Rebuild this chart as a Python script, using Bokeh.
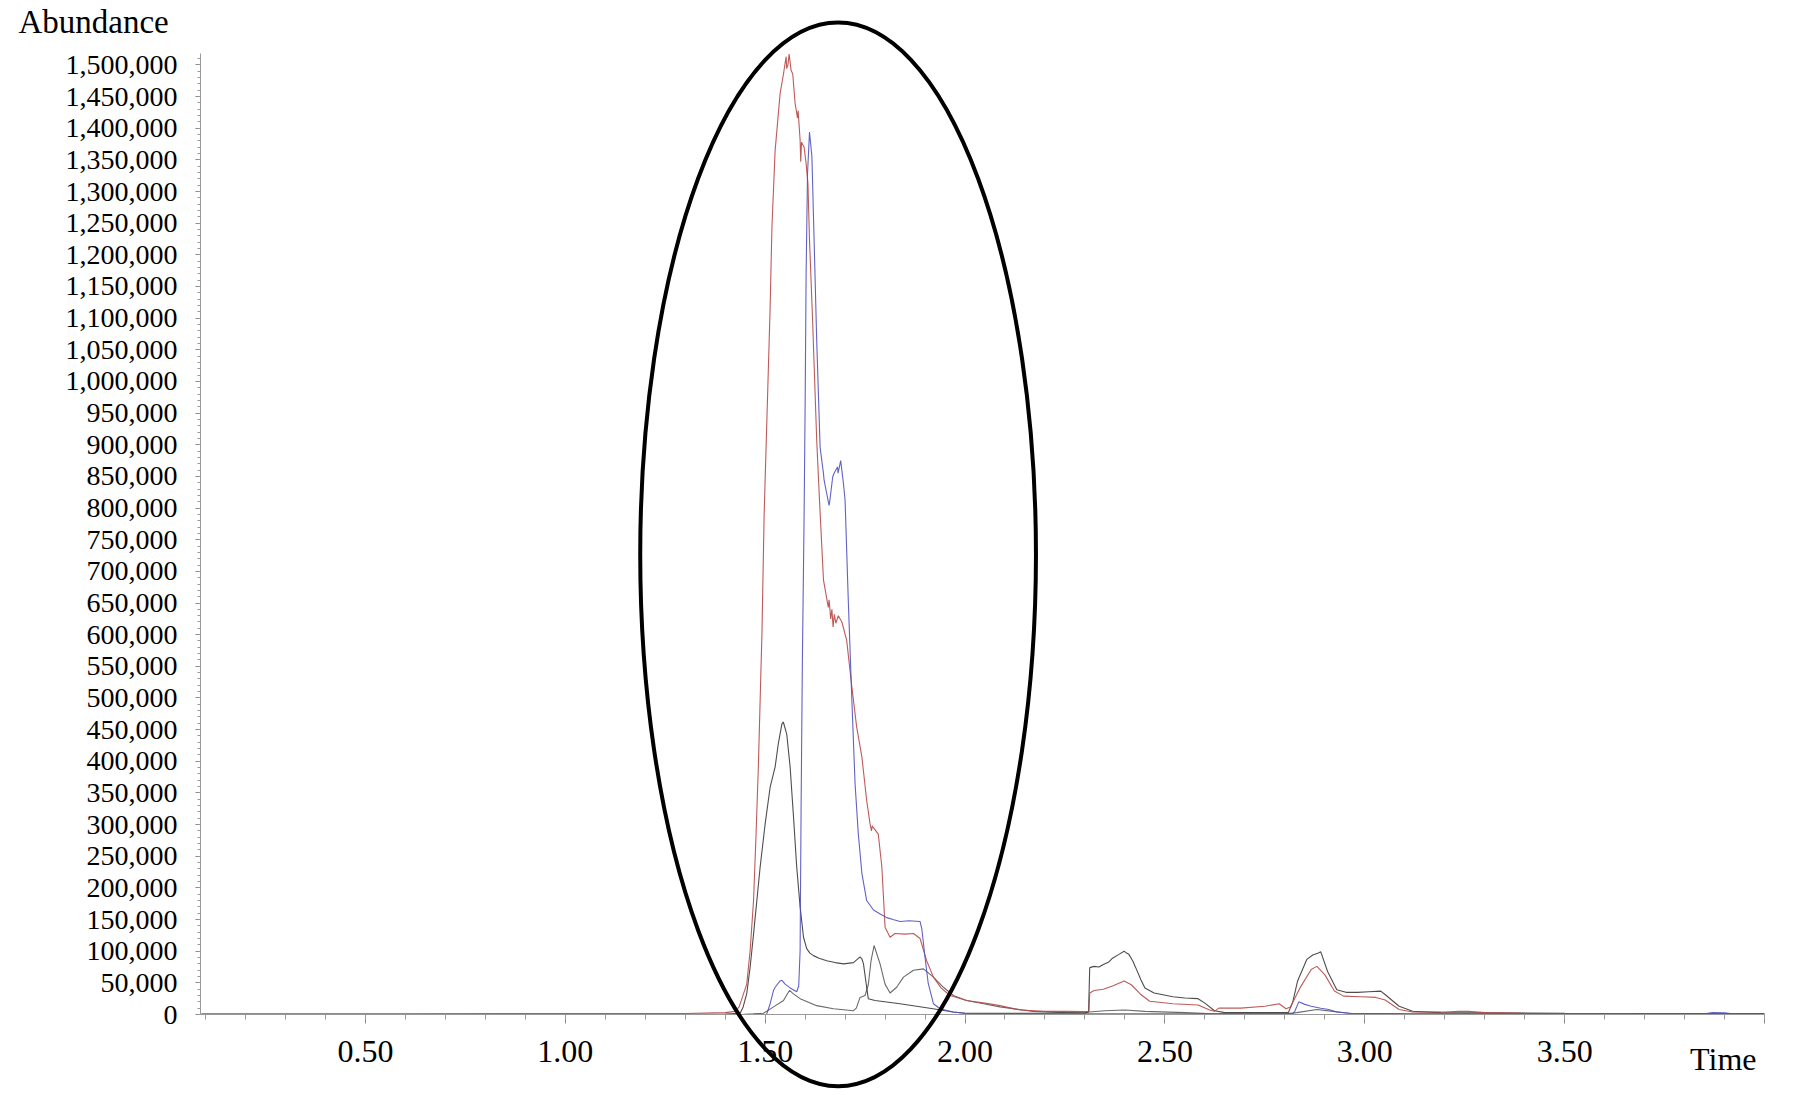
import numpy as np
from bokeh.plotting import figure
from bokeh.layouts import column
from bokeh.models import Range1d, FixedTicker, NumeralTickFormatter, Label, CustomJSTickFormatter, GridBox
from bokeh.embed import file_html
from bokeh.resources import INLINE

# ---------------- data ----------------
red_t = [0.09, 0.60, 1.00, 1.30, 1.40, 1.425, 1.435, 1.446, 1.454, 1.4625, 1.471, 1.477, 1.483, 1.492,
         1.4975, 1.5125, 1.517, 1.525, 1.5375, 1.546, 1.5525, 1.554, 1.557, 1.56, 1.565, 1.569, 1.575,
         1.581, 1.5825, 1.5875, 1.589, 1.591, 1.5975, 1.6025, 1.607, 1.611, 1.619, 1.629, 1.636, 1.646,
         1.658, 1.660, 1.664, 1.667, 1.670, 1.673, 1.677, 1.683, 1.692, 1.704, 1.717, 1.729, 1.742, 1.754,
         1.7625, 1.766, 1.768, 1.77, 1.783, 1.792, 1.80, 1.8125, 1.825, 1.85, 1.871, 1.8875, 1.904, 1.921,
         1.94, 1.9625, 2.004, 2.05, 2.0875, 2.1375, 2.20, 2.254, 2.30, 2.31, 2.312, 2.323, 2.346, 2.369,
         2.398, 2.416, 2.439, 2.462, 2.52, 2.583, 2.612, 2.624, 2.635, 2.69, 2.75, 2.786, 2.803, 2.814,
         2.838, 2.866, 2.88, 2.90, 2.924, 2.947, 2.99, 3.028, 3.051, 3.086, 3.12, 3.20, 3.236, 3.26,
         3.30, 3.40, 3.60, 4.00]
red_v = [1000, 1000, 1500, 1500, 3000, 5000, 12000, 33000, 48000, 101000, 180000, 280000, 391000, 602000,
         790000, 1117000, 1244000, 1365000, 1455000, 1486000, 1513000, 1494000, 1500000, 1517000, 1491000,
         1486000, 1439000, 1416000, 1428000, 1381000, 1347000, 1378000, 1370000, 1344000, 1313000, 1223000,
         1092000, 907000, 812000, 686000, 643000, 655000, 625000, 640000, 612000, 632000, 618000, 630000,
         620000, 591000, 517000, 454000, 407000, 338000, 301000, 290000, 298000, 296000, 285000, 233000,
         138000, 122000, 128000, 127000, 128000, 120000, 85000, 59000, 42000, 30000, 22000, 18000, 14000,
         7000, 5000, 5000, 4500, 5000, 34000, 38000, 40000, 45000, 53000, 47000, 32000, 21000, 17000, 15000,
         7000, 5000, 10000, 10000, 13000, 17000, 9000, 12000, 42000, 71000, 76000, 63000, 37000, 29000,
         28000, 27000, 23000, 8000, 4000, 4000, 5000, 5000, 3000, 2000, 1500, 1000]

blue_t = [0.09, 1.49, 1.504, 1.5125, 1.521, 1.525, 1.5375, 1.542, 1.55, 1.5625, 1.579, 1.584, 1.5875,
          1.588, 1.590, 1.593, 1.5975, 1.60, 1.6025, 1.606, 1.611, 1.617, 1.6225, 1.629, 1.6375, 1.646,
          1.6475, 1.654, 1.66, 1.6625, 1.669, 1.6725, 1.681, 1.6825, 1.689, 1.696, 1.70, 1.708, 1.717,
          1.725, 1.733, 1.742, 1.754, 1.771, 1.79, 1.804, 1.82, 1.8375, 1.86, 1.8875, 1.892, 1.90, 1.908,
          1.921, 1.9375, 1.97, 2.00, 2.20, 2.82, 2.825, 2.835, 2.85, 2.866, 2.89, 2.91, 2.93, 2.97, 3.50,
          3.85, 3.87, 3.90, 3.92, 4.00]
blue_v = [0, 0, 500, 17000, 38000, 43000, 53000, 54000, 48000, 42000, 36000, 45000, 101000, 150000, 330000,
          549000, 790000, 960000, 1170000, 1328000, 1394000, 1355000, 1223000, 1065000, 896000, 854000,
          844000, 823000, 804000, 815000, 849000, 855000, 865000, 855000, 875000, 838000, 812000, 654000,
          496000, 364000, 286000, 223000, 180000, 165000, 158000, 153000, 150000, 147000, 148000, 147000,
          135000, 90000, 49000, 17000, 9000, 4000, 2000, 1000, 1000, 5000, 20000, 16000, 13000, 10000, 8000,
          4000, 1500, 1000, 1000, 3000, 2500, 1000, 1000]

dark_t = [0.09, 1.00, 1.40, 1.4375, 1.445, 1.454, 1.4625, 1.471, 1.4875, 1.50, 1.5125, 1.525, 1.533, 1.542,
          1.5455, 1.554, 1.5625, 1.571, 1.579, 1.5875, 1.596, 1.604, 1.612, 1.621, 1.635, 1.654, 1.675,
          1.696, 1.721, 1.7375, 1.742, 1.746, 1.754, 1.758, 1.775, 1.8375, 1.92, 1.97, 2.00, 2.20, 2.30,
          2.309, 2.312, 2.323, 2.335, 2.346, 2.36, 2.369, 2.385, 2.398, 2.404, 2.41, 2.42, 2.427, 2.44,
          2.45, 2.473, 2.52, 2.55, 2.583, 2.60, 2.624, 2.65, 2.80, 2.809, 2.82, 2.832, 2.855, 2.87, 2.884,
          2.89, 2.907, 2.93, 2.953, 2.982, 3.01, 3.04, 3.05, 3.086, 3.12, 3.19, 3.50, 4.00]
dark_v = [500, 500, 800, 2000, 12000, 33000, 75000, 127000, 233000, 301000, 359000, 391000, 428000, 459000,
          462000, 443000, 391000, 312000, 233000, 170000, 122000, 104000, 97000, 93000, 89000, 85000, 82000,
          80000, 82000, 91000, 88000, 80000, 43000, 25000, 22000, 17000, 9000, 4000, 2000, 2000, 3000, 4000,
          74000, 76000, 75000, 79000, 83000, 89000, 95000, 100000, 97000, 95000, 84000, 74000, 55000, 42000,
          34000, 28000, 26000, 25000, 18000, 6000, 3000, 3000, 3000, 20000, 53000, 87000, 94000, 97000, 99000,
          68000, 39000, 35000, 35000, 36000, 37000, 32000, 13000, 5000, 3000, 2000, 1500]

gray_t = [0.09, 1.44, 1.47, 1.496, 1.521, 1.546, 1.555, 1.561, 1.57, 1.5875, 1.629, 1.671, 1.721, 1.728,
          1.7375, 1.75, 1.758, 1.765, 1.7725, 1.7875, 1.80, 1.8125, 1.829, 1.846, 1.871, 1.896, 1.921,
          1.946, 1.971, 2.004, 2.046, 2.0875, 2.17, 2.25, 2.30, 2.31, 2.35, 2.40, 2.45, 2.55, 2.62, 2.80,
          2.83, 2.88, 2.92, 2.96, 3.10, 4.00]
gray_v = [0, 0, 1000, 2000, 12000, 22000, 32000, 38000, 33000, 25000, 14000, 9000, 6000, 10000, 27000,
          30000, 47000, 85000, 109000, 80000, 48000, 34000, 43000, 59000, 70000, 72000, 59000, 43000, 30000,
          22000, 17000, 12000, 5000, 3000, 2000, 4000, 6000, 7000, 5000, 3000, 1000, 1000, 3000, 8000, 5000,
          2000, 1000, 500]

x_major = [0.5, 1.0, 1.5, 2.0, 2.5, 3.0, 3.5, 4.0]
x_minor = [round(0.1 * i, 2) for i in range(1, 41)]
y_major = list(range(0, 1500001, 50000))
y_minor = list(range(0, 1518001, 10000))

# highlight ellipse (centre / semi-axes in data units)
ell_cx, ell_cy = 1.6825, 726800
ell_a, ell_b = 0.495, 840500

# ---------------- layout ----------------
W, H = 1805, 1095
BL, BR, BT, BB = 200, 41, 53, 81
X0, X1 = 0.0875, 4.0
Y0, Y1 = 0, 1518000
ux = (X1 - X0) / (W - BL - BR)
uy = (Y1 - Y0) / (H - BT - BB)

FONT = "Liberation Serif"
p = figure(width=W, height=H, x_range=Range1d(X0, X1), y_range=Range1d(Y0, Y1),
           output_backend="svg", toolbar_location=None,
           min_border_left=BL, min_border_right=BR, min_border_top=BT, min_border_bottom=BB)
p.xgrid.visible = False
p.ygrid.visible = False
p.outline_line_color = None
p.background_fill_color = "white"
p.border_fill_color = "white"

p.line(gray_t, gray_v, line_color="#5a5a5a", line_width=1.1, line_alpha=0.9)
p.line(dark_t, dark_v, line_color="#3a3a3a", line_width=1.1, line_alpha=0.9)
p.line(red_t, red_v, line_color="#b84848", line_width=1.1, line_alpha=0.9)
p.line(blue_t, blue_v, line_color="#5050c0", line_width=1.1, line_alpha=0.9)

ax = p.xaxis[0]
ax.ticker = FixedTicker(ticks=x_major, minor_ticks=x_minor)
ax.formatter = CustomJSTickFormatter(code="return tick > 3.99 ? '' : tick.toFixed(2);")
ax.axis_line_color = "#999999"
ax.major_tick_line_color = "#888888"
ax.minor_tick_line_color = "#999999"
ax.major_tick_in = 0
ax.major_tick_out = 9
ax.minor_tick_in = 0
ax.minor_tick_out = 5
ax.major_label_text_font = FONT
ax.major_label_text_font_size = "32px"
ax.major_label_text_color = "black"
ax.major_label_standoff = 17

ay = p.yaxis[0]
ay.ticker = FixedTicker(ticks=y_major, minor_ticks=y_minor)
ay.formatter = NumeralTickFormatter(format="0,0")
ay.axis_line_color = "#999999"
ay.major_tick_line_color = "#888888"
ay.minor_tick_line_color = "#999999"
ay.major_tick_in = 0
ay.major_tick_out = 5
ay.minor_tick_in = 0
ay.minor_tick_out = 3
ay.major_label_text_font = FONT
ay.major_label_text_font_size = "28px"
ay.major_label_text_color = "black"
ay.major_label_standoff = 18

# transparent overlay with the same data mapping, whose frame covers the whole canvas
ov = figure(width=W, height=H,
            x_range=Range1d(X0 - BL * ux, X1 + BR * ux), y_range=Range1d(Y0 - BB * uy, Y1 + BT * uy),
            output_backend="svg", toolbar_location=None, x_axis_location=None, y_axis_location=None,
            min_border=0)
ov.xgrid.visible = False
ov.ygrid.visible = False
ov.outline_line_color = None
ov.background_fill_color = None
ov.border_fill_color = None

ov.ellipse(x=[ell_cx], y=[ell_cy], width=[2 * ell_a], height=[2 * ell_b],
           fill_color=None, line_color="black", line_width=4)
ov.add_layout(Label(x=-0.3678, y=1568000, text="Abundance", text_font=FONT, text_font_size="33px",
                    text_align="left", text_baseline="alphabetic", text_color="black"))
ov.add_layout(Label(x=3.897, y=-71000, text="Time", text_font=FONT, text_font_size="32px",
                    text_align="center", text_baseline="alphabetic", text_color="black"))

if "frame_align" in ov.properties():
    p.frame_align = False
    ov.frame_align = False
    layout = GridBox(children=[(p, 0, 0), (ov, 0, 0)])
else:
    layout = GridBox(children=[(p, 0, 0), (column(ov), 0, 0)])
open("out.html", "w").write(file_html(layout, INLINE))
